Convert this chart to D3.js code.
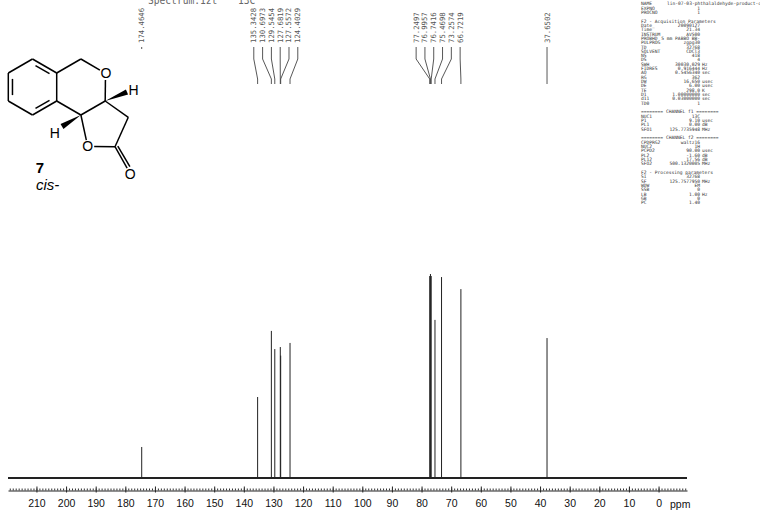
<!DOCTYPE html>
<html>
<head>
<meta charset="utf-8">
<script src="https://cdn.jsdelivr.net/npm/d3@7"></script>
<style>
body { margin: 0; background: #fff; }
</style>
</head>
<body>
<div id="chart"></div>
<script>
// peak list (ppm) and heights (% of tallest)
const peakPpm = [174.4646, 135.3428, 130.6973, 129.5454, 127.6819, 127.5572, 124.4029,
                 77.2497, 76.9957, 76.7416, 75.4698, 73.2574, 66.7219, 37.6502];
const peakHeight = [15.2, 39.7, 72.1, 63.2, 64.2, 60.0, 66.2,
                    99.0, 100, 99.0, 77.5, 98.5, 92.6, 68.6];

const majorTicks = [210, 200, 190, 180, 170, 160, 150, 140, 130, 120, 110, 100,
                    90, 80, 70, 60, 50, 40, 30, 20, 10, 0];

// acquisition / processing parameter block (name, value, unit)
const paramNames = ["NAME", "EXPNO", "PROCNO", "", "F2 - Acquisition Parameters",
    "Date_", "Time", "INSTRUM", "PROBHD", "PULPROG", "TD", "SOLVENT", "NS", "DS",
    "SWH", "FIDRES", "AQ", "RG", "DW", "DE", "TE", "D1", "d11", "TD0", "",
    "======== CHANNEL f1 ========", "NUC1", "P1", "PL1", "SFO1", "",
    "======== CHANNEL f2 ========", "CPDPRG2", "NUC2", "PCPD2", "PL2", "PL12", "SFO2", "",
    "F2 - Processing parameters", "SI", "SF", "WDW", "SSB", "LB", "GB", "PC"];
const paramValues = ["", "1", "1", "", "",
    "20090127", "21.34", "AV500", "5 mm PABBO BB-", "zgpg30", "32768", "CDCl3", "418", "4",
    "30030.029", "0.916444", "0.5456340", "362", "16.650", "6.00", "298.0", "1.00000000", "0.03000000", "1", "",
    "", "13C", "9.10", "0.00", "125.7735948", "",
    "", "waltz16", "1H", "90.00", "-1.60", "17.56", "500.1320005", "",
    "", "32768", "125.7577950", "EM", "0", "1.00", "0", "1.40"];
const paramUnits = ["", "", "", "", "",
    "", "", "", "", "", "", "", "", "",
    "Hz", "Hz", "sec", "", "usec", "usec", "K", "sec", "sec", "", "",
    "", "", "usec", "dB", "MHz", "",
    "", "", "", "usec", "dB", "dB", "MHz", "",
    "", "", "MHz", "", "", "Hz", "", ""];
const sampleName = "lin-07-03-phthalaldehyde-product-cis";

const width = 760, height = 515;

const svg = d3.select("#chart").append("svg")
    .attr("width", width)
    .attr("height", height)
    .style("font-family", "'Liberation Sans', Arial, sans-serif");

// scales
const x = d3.scaleLinear().domain([219.6, -9.6]).range([8, 687]);
const y = d3.scaleLinear().domain([0, 100]).range([478, 274]);
const axisY = 490.5;

// spectrum baseline
svg.append("line")
    .attr("x1", x(219.6)).attr("x2", x(-9.6))
    .attr("y1", y(0)).attr("y2", y(0))
    .attr("stroke", "#222").attr("stroke-width", 2.2);

// peaks
svg.selectAll("line.peak")
    .data(peakPpm)
    .enter()
    .append("line")
    .attr("class", "peak")
    .attr("x1", d => x(d)).attr("x2", d => x(d))
    .attr("y1", y(0))
    .attr("y2", (d, i) => y(peakHeight[i]))
    .attr("stroke", "#222")
    .attr("stroke-width", 1);

// axis: major ticks with labels, minor ticks every ppm
const majorAxis = d3.axisBottom(x)
    .tickValues(majorTicks)
    .tickSizeInner(-4)
    .tickSizeOuter(0)
    .tickPadding(9)
    .tickFormat(d3.format("d"));
const gAxis = svg.append("g")
    .attr("transform", "translate(0," + axisY + ")")
    .call(majorAxis);
gAxis.select(".domain").attr("stroke", "#222");
gAxis.selectAll(".tick line").attr("stroke", "#222").attr("y2", 2).attr("y1", -4);
gAxis.selectAll(".tick text")
    .attr("fill", "#111")
    .style("font-size", "10.5px")
    .style("font-family", "'Liberation Sans', Arial, sans-serif");

const minorAxis = d3.axisBottom(x)
    .tickValues(d3.range(-9, 220, 1))
    .tickSizeInner(-2)
    .tickSizeOuter(0)
    .tickFormat("");
const gMinor = svg.append("g")
    .attr("transform", "translate(0," + axisY + ")")
    .call(minorAxis);
gMinor.select(".domain").remove();
gMinor.selectAll(".tick line").attr("stroke", "#333");

svg.append("text")
    .attr("x", 670).attr("y", 508)
    .attr("fill", "#111")
    .style("font-size", "10.5px")
    .text("ppm");

// peak labels: group close peaks and spread their labels evenly
const px = peakPpm.map(d => x(d));
let clusters = [];
peakPpm.forEach((d, i) => {
    let last = clusters[clusters.length - 1];
    if (last && px[i] - px[last[last.length - 1]] < 25) last.push(i);
    else clusters.push([i]);
});
let labelX = [];
clusters.forEach(c => {
    let mean = d3.mean(c, i => px[i]);
    c.forEach((i, k) => { labelX[i] = mean + (k - (c.length - 1) / 2) * 8.8; });
});

const labels = svg.append("g");
peakPpm.forEach((d, i) => {
    labels.append("text")
        .attr("transform", "translate(" + (labelX[i] + 2.5) + ",43) rotate(-90)")
        .attr("fill", "#555")
        .style("font-family", "'DejaVu Sans Mono', monospace")
        .style("font-size", "7.3px")
        .text(d.toFixed(4));
    labels.append("path")
        .attr("d", "M" + labelX[i] + ",47 V59 L" + px[i] + ",79 V84")
        .attr("fill", "none")
        .attr("stroke", "#444")
        .attr("stroke-width", 0.9);
});

// header text cut at the top edge
svg.append("text")
    .attr("x", 148).attr("y", 4)
    .attr("fill", "#666")
    .style("font-family", "'DejaVu Sans Mono', monospace")
    .style("font-size", "9.6px")
    .text("Spectrum:1zt");
svg.append("text")
    .attr("x", 238).attr("y", 4)
    .attr("fill", "#666")
    .style("font-family", "'DejaVu Sans Mono', monospace")
    .style("font-size", "9.6px")
    .text("13C");

// parameter block
const params = svg.append("g")
    .style("font-family", "'DejaVu Sans Mono', monospace")
    .style("font-size", "4.6px")
    .attr("fill", "#333");
paramNames.forEach((n, i) => {
    let yy = 5.2 + i * 4.33;
    if (n === "") return;
    params.append("text").attr("x", 641).attr("y", yy).text(n);
    if (i === 0) {
        params.append("text").attr("x", 667).attr("y", yy).text(sampleName);
        return;
    }
    if (paramValues[i] !== "") {
        params.append("text").attr("x", 700).attr("y", yy)
            .attr("text-anchor", "end").text(paramValues[i]);
    }
    if (paramUnits[i] !== "") {
        params.append("text").attr("x", 702).attr("y", yy).text(paramUnits[i]);
    }
});

// structure of compound 7 (pasted drawing with white background)
const mol = svg.append("g");
mol.append("rect")
    .attr("x", 0).attr("y", 49).attr("width", 150).attr("height", 145)
    .attr("fill", "#fff");

const A = {
    b1: [32.5, 59], b2: [56.7, 73], b3: [56.7, 101], b4: [32.5, 115], b5: [8.3, 101], b6: [8.3, 73],
    c1: [80.9, 59], o2: [105.5, 73.5], c3a: [105.2, 101], c9b: [80.9, 115],
    o1: [87.7, 146.5], c2: [115, 146.7], c3: [128.3, 117.3], o3: [130.3, 173.8]
};
const bonds = [
    ["b1", "b2"], ["b2", "b3"], ["b3", "b4"], ["b4", "b5"], ["b5", "b6"], ["b6", "b1"],
    ["b2", "c1"], ["c1", "o2"], ["o2", "c3a"], ["c3a", "c9b"], ["c9b", "b3"],
    ["c9b", "o1"], ["o1", "c2"], ["c2", "c3"], ["c3", "c3a"], ["c2", "o3"]
];
const hetero = { o2: 1, o1: 1, o3: 1 };

function trimmed(p, q) {
    // shorten bond ends at heteroatom labels
    let a = A[p].slice(), b = A[q].slice();
    let dx = b[0] - a[0], dy = b[1] - a[1], L = Math.hypot(dx, dy);
    if (hetero[p]) { a[0] += dx / L * 6.5; a[1] += dy / L * 6.5; }
    if (hetero[q]) { b[0] -= dx / L * 6.5; b[1] -= dy / L * 6.5; }
    return [a, b];
}

bonds.forEach(([p, q]) => {
    let [a, b] = trimmed(p, q);
    mol.append("line")
        .attr("x1", a[0]).attr("y1", a[1]).attr("x2", b[0]).attr("y2", b[1])
        .attr("stroke", "#000").attr("stroke-width", 1.5);
});

// inner lines of the aromatic double bonds
const ring = [32.5, 87];
[["b6", "b5"], ["b1", "b2"], ["b4", "b3"]].forEach(([p, q]) => {
    let a = A[p], b = A[q];
    let pt = t => {
        let xx = a[0] + (b[0] - a[0]) * t, yy = a[1] + (b[1] - a[1]) * t;
        let k = 4.5 / Math.hypot(ring[0] - xx, ring[1] - yy);
        return [xx + (ring[0] - xx) * k, yy + (ring[1] - yy) * k];
    };
    let s = pt(0.15), e = pt(0.85);
    mol.append("line")
        .attr("x1", s[0]).attr("y1", s[1]).attr("x2", e[0]).attr("y2", e[1])
        .attr("stroke", "#000").attr("stroke-width", 1.5);
});

// second line of C=O
{
    let [a, b] = trimmed("c2", "o3");
    let dx = b[0] - a[0], dy = b[1] - a[1], L = Math.hypot(dx, dy);
    let ox = -dy / L * 3.2, oy = dx / L * 3.2;
    mol.append("line")
        .attr("x1", a[0] - ox).attr("y1", a[1] - oy + 1).attr("x2", b[0] - ox).attr("y2", b[1] - oy)
        .attr("stroke", "#000").attr("stroke-width", 1.5);
}

// wedge bonds to H
function wedge(from, to) {
    let dx = to[0] - from[0], dy = to[1] - from[1], L = Math.hypot(dx, dy);
    let nx = -dy / L * 2.8, ny = dx / L * 2.8;
    mol.append("path")
        .attr("d", "M" + from[0] + "," + from[1] +
            " L" + (to[0] + nx) + "," + (to[1] + ny) +
            " L" + (to[0] - nx) + "," + (to[1] - ny) + " Z")
        .attr("fill", "#000");
}
wedge(A.c3a, [127, 92]);
wedge(A.c9b, [62, 126.5]);

const atomLabel = (t, cx, base) => mol.append("text")
    .attr("x", cx).attr("y", base)
    .attr("text-anchor", "middle")
    .style("font-size", "14px")
    .attr("fill", "#000")
    .text(t);
atomLabel("O", 106, 78.3);
atomLabel("H", 133.5, 95);
atomLabel("H", 54.7, 137.5);
atomLabel("O", 87.7, 151.3);
atomLabel("O", 130.3, 179);

mol.append("text")
    .attr("x", 40).attr("y", 172.5)
    .attr("text-anchor", "middle")
    .style("font-size", "15px")
    .style("font-weight", "bold")
    .text("7");
mol.append("text")
    .attr("x", 36).attr("y", 189.5)
    .style("font-size", "15px")
    .style("font-style", "italic")
    .text("cis-");
</script>
</body>
</html>
